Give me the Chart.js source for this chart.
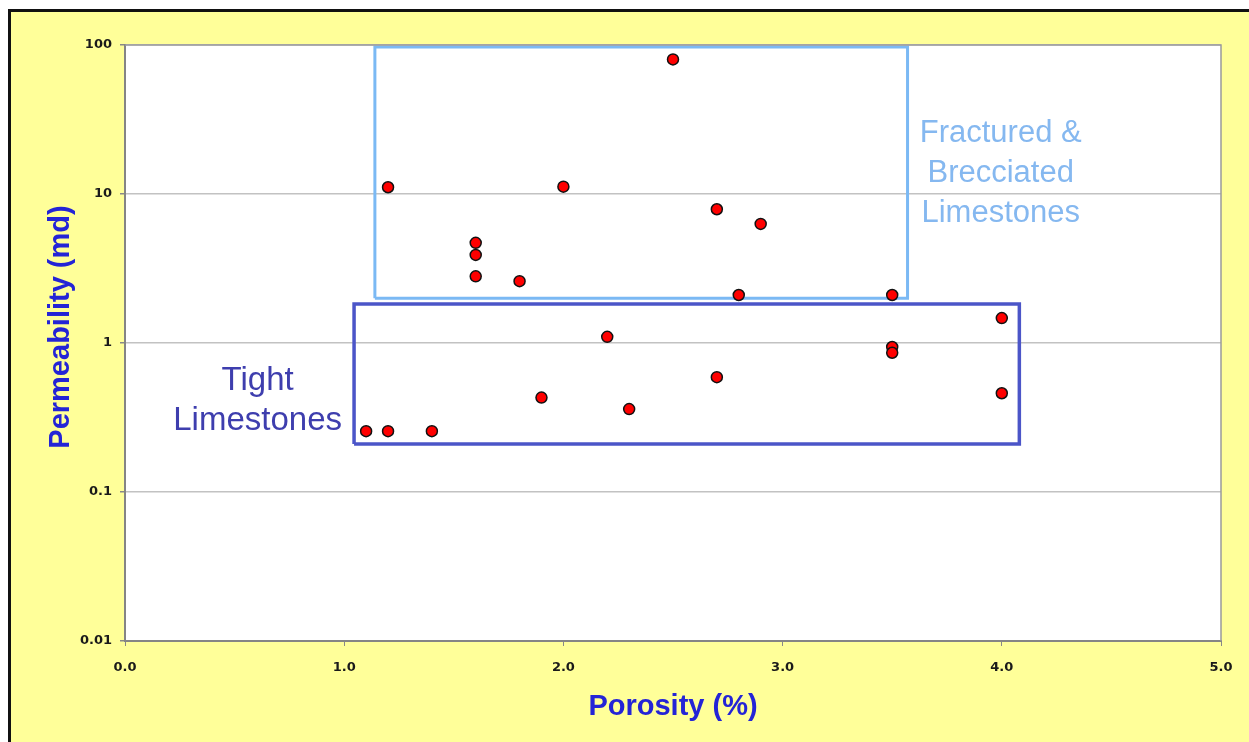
<!DOCTYPE html>
<html lang="en">
<head>
    <meta charset="UTF-8">
    <title>Porosity vs Permeability</title>
    <script src="https://cdn.jsdelivr.net/npm/chart.js"></script>
    <style>
        html, body {
            margin: 0;
            padding: 0;
            background: #ffffff;
            overflow: hidden;
        }
        .frame {
            position: absolute;
            left: 8px;
            top: 9px;
            width: 1241px;
            height: 733px;
            background: #FFFF99;
            border-left: 3px solid #111;
            border-top: 3px solid #111;
            box-sizing: border-box;
        }
        .chart-wrapper {
            position: absolute;
            left: 0;
            top: 0;
            width: 1249px;
            height: 742px;
        }
    </style>
</head>
<body>
    <div class="frame"></div>
    <div class="chart-wrapper">
        <canvas id="poroPermChart"></canvas>
    </div>

    <script>
        // Core samples
        const porosity = [2.5, 1.2, 2.0, 2.7, 2.9, 1.6, 1.6, 1.6, 1.8, 2.8, 3.5,
                          4.0, 2.2, 3.5, 3.5, 2.7, 1.9, 2.3, 4.0, 1.1, 1.2, 1.4];
        const permeability = [80, 11.1, 11.2, 7.9, 6.3, 4.7, 3.9, 2.8, 2.6, 2.1, 2.1,
                              1.47, 1.1, 0.94, 0.86, 0.59, 0.43, 0.36, 0.46, 0.256, 0.256, 0.256];

        // Axis ticks
        const xTicks = [0, 1, 2, 3, 4, 5];
        const yTicks = [0.01, 0.1, 1, 10, 100];
        const yTickLabels = ['0.01', '0.1', '1', '10', '100'];

        // Rock type boxes: [xMin, xMax, yMin, yMax]
        const fracturedBox = [1.14, 3.57, 2.0, 97];
        const tightBox = [1.045, 4.08, 0.21, 1.83];

        const fracturedLabel = ['Fractured &', 'Brecciated', 'Limestones'];
        const tightLabel = ['Tight', 'Limestones'];
        const yTitle = 'Permeability (md)';

        function boxPath(b) {
            return [
                { x: b[0], y: b[2] }, { x: b[1], y: b[2] },
                { x: b[1], y: b[3] }, { x: b[0], y: b[3] },
                { x: b[0], y: b[2] }
            ];
        }

        const points = porosity.map((p, i) => ({ x: p, y: permeability[i] }));

        // white plot area + thin frame
        const plotArea = {
            id: 'plotArea',
            beforeDraw(chart) {
                const { ctx, chartArea: a } = chart;
                ctx.save();
                ctx.fillStyle = '#ffffff';
                ctx.fillRect(a.left, a.top, a.right - a.left, a.bottom - a.top);
                ctx.restore();
            },
            afterDraw(chart) {
                const { ctx, chartArea: a } = chart;
                ctx.save();
                ctx.strokeStyle = '#9a9a9a';
                ctx.lineWidth = 1.5;
                ctx.beginPath();
                ctx.moveTo(a.left, a.top);
                ctx.lineTo(a.right, a.top);
                ctx.lineTo(a.right, a.bottom);
                ctx.stroke();

                // y title sits a bit above the axis middle in the original
                ctx.translate(61, 327);
                ctx.rotate(-Math.PI / 2);
                ctx.font = 'bold 29px "Liberation Sans", Arial, sans-serif';
                ctx.fillStyle = '#2424D6';
                ctx.textAlign = 'center';
                ctx.textBaseline = 'middle';
                ctx.fillText(yTitle, 0, 0);
                ctx.restore();
            }
        };

        // region labels anchored in data space
        const regionLabels = {
            id: 'regionLabels',
            afterDatasetsDraw(chart) {
                const { ctx, scales } = chart;
                const draw = (lines, xv, yv, font, color) => {
                    const cx = scales.x.getPixelForValue(xv);
                    const cy = scales.y.getPixelForValue(yv);
                    ctx.save();
                    ctx.font = font;
                    ctx.fillStyle = color;
                    ctx.textAlign = 'center';
                    ctx.textBaseline = 'middle';
                    const start = cy - (lines.length - 1) * 20;
                    lines.forEach((t, i) => ctx.fillText(t, cx, start + i * 40));
                    ctx.restore();
                };
                draw(fracturedLabel, 3.995, 13.8, '31px "Liberation Sans", Arial, sans-serif', '#85B8F0');
                draw(tightLabel, 0.605, 0.41, '33px "Liberation Sans", Arial, sans-serif', '#3E3EAE');
            }
        };

        const tickFont = { family: '"DejaVu Sans", sans-serif', size: 13, weight: 'bold' };
        const titleFont = { family: '"Liberation Sans", Arial, sans-serif', size: 29, weight: 'bold' };

        const ctx = document.getElementById('poroPermChart').getContext('2d');
        new Chart(ctx, {
            type: 'scatter',
            data: {
                datasets: [
                    {
                        label: 'Samples',
                        data: points,
                        backgroundColor: '#FF0000',
                        borderColor: '#111111',
                        borderWidth: 1.5,
                        pointRadius: 5.5
                    },
                    {
                        label: 'Fractured & Brecciated',
                        data: boxPath(fracturedBox),
                        showLine: true,
                        borderColor: '#7BB9F4',
                        borderWidth: 3,
                        pointRadius: 0,
                        fill: false
                    },
                    {
                        label: 'Tight',
                        data: boxPath(tightBox),
                        showLine: true,
                        borderColor: '#4B55C8',
                        borderWidth: 3.5,
                        pointRadius: 0,
                        fill: false
                    }
                ]
            },
            options: {
                responsive: true,
                maintainAspectRatio: false,
                animation: false,
                layout: {
                    padding: { top: 45, right: 28, left: 0, bottom: 0 }
                },
                plugins: {
                    legend: { display: false },
                    tooltip: { enabled: false }
                },
                scales: {
                    x: {
                        type: 'linear',
                        min: 0,
                        max: 5,
                        afterFit(scale) { scale.height = 101; },
                        afterBuildTicks(scale) {
                            scale.ticks = xTicks.map(v => ({ value: v }));
                        },
                        ticks: {
                            font: tickFont,
                            color: '#1a1a1a',
                            padding: 14,
                            maxRotation: 0,
                            callback: v => Number(v).toFixed(1)
                        },
                        grid: {
                            drawOnChartArea: false,
                            tickLength: 5,
                            color: '#888888'
                        },
                        border: { color: '#858585', width: 2 },
                        title: {
                            display: true,
                            text: 'Porosity (%)',
                            color: '#2424D6',
                            font: titleFont,
                            padding: { top: 0, bottom: 18 }
                        }
                    },
                    y: {
                        type: 'logarithmic',
                        min: 0.01,
                        max: 100,
                        afterFit(scale) { scale.width = 125; },
                        afterBuildTicks(scale) {
                            scale.ticks = yTicks.map(v => ({ value: v }));
                        },
                        ticks: {
                            font: tickFont,
                            color: '#1a1a1a',
                            padding: 8,
                            callback: v => yTickLabels[yTicks.indexOf(v)]
                        },
                        grid: {
                            color: '#c2c2c2',
                            lineWidth: 1.5,
                            tickLength: 5,
                            tickColor: '#888888'
                        },
                        border: { color: '#858585', width: 2 }
                    }
                }
            },
            plugins: [plotArea, regionLabels]
        });
    </script>
</body>
</html>
